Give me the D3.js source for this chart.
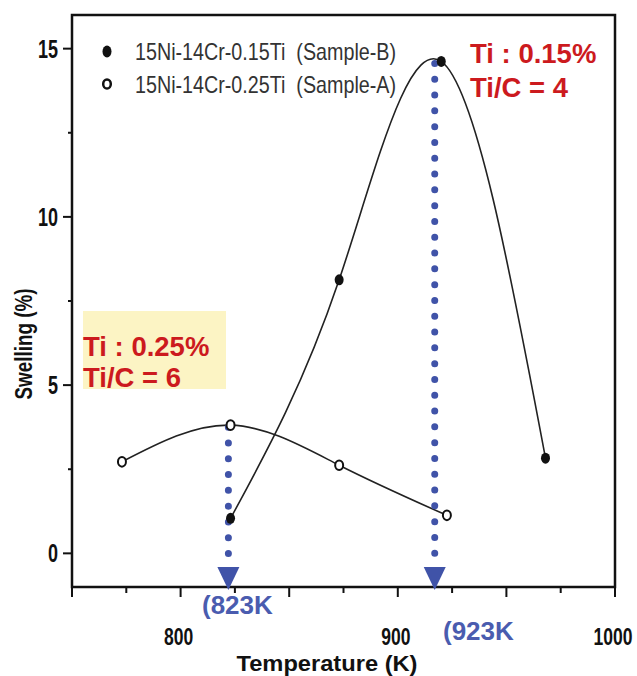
<!DOCTYPE html>
<html>
<head>
<meta charset="utf-8">
<script src="https://cdn.jsdelivr.net/npm/d3@7"></script>
<style>
  html, body { margin: 0; padding: 0; background: #fff; }
  svg { display: block; }
</style>
</head>
<body>
<div id="chart"></div>
<script>
// ---------------- data ----------------
const tempB = [823, 873, 920, 968];
const swellB = [1.04, 8.13, 14.62, 2.83];
const tempA = [773, 823, 873, 922.6];
const swellA = [2.72, 3.81, 2.62, 1.13];
const seriesNames = ["15Ni-14Cr-0.15Ti  (Sample-B)", "15Ni-14Cr-0.25Ti  (Sample-A)"];
const xTickLabels = [800, 900, 1000];
const yTickLabels = [0, 5, 10, 15];
const arrowTemps = [822, 917];
const arrowStarts = [3.81, 14.62];
const arrowLabels = ["(823K", "(923K"];
const noteB = ["Ti : 0.15%", "Ti/C = 4"];
const noteA = ["Ti : 0.25%", "Ti/C = 6"];

// ---------------- setup ----------------
const W = 637, H = 676;
const svg = d3.select("#chart").append("svg").attr("width", W).attr("height", H);
const x = d3.scaleLinear().domain([750, 1000]).range([72, 615]);
const y = d3.scaleLinear().domain([-1, 16]).range([587, 15]);
const sans = "'Liberation Sans', Arial, sans-serif";
const blue = "#4053a8";
const red = "#cc1a1e";

// yellow note box (behind)
svg.append("rect").attr("x", 83).attr("y", 311).attr("width", 143).attr("height", 78)
  .attr("fill", "#fcf4c4");

// ---------------- axes ----------------
const xMinor = d3.range(750, 1001, 25);
svg.append("g").selectAll("line").data(xMinor).join("line")
  .attr("x1", d => x(d)).attr("x2", d => x(d))
  .attr("y1", 587).attr("y2", d => 587 + (d % 50 === 0 ? 10 : 6))
  .attr("stroke", "#111").attr("stroke-width", 2);
svg.append("g").selectAll("text").data(xTickLabels).join("text")
  .attr("transform", d => `translate(${x(d) - 2},645) scale(0.73,1)`).attr("text-anchor", "middle")
  .attr("font-family", sans).attr("font-weight", "bold").attr("font-size", 24)
  .attr("fill", "#111").text(d => d);

const yMinor = d3.range(0, 16, 2.5);
svg.append("g").selectAll("line").data(yMinor).join("line")
  .attr("y1", d => y(d)).attr("y2", d => y(d))
  .attr("x1", 72).attr("x2", d => 72 - (d % 5 === 0 ? 9 : 4))
  .attr("stroke", "#111").attr("stroke-width", 2);
svg.append("g").selectAll("text").data(yTickLabels).join("text")
  .attr("transform", d => `translate(58,${y(d) + 9}) scale(0.72,1)`).attr("text-anchor", "end")
  .attr("font-family", sans).attr("font-weight", "bold").attr("font-size", 25)
  .attr("fill", "#111").text(d => d);

// frame
svg.append("rect").attr("x", 72).attr("y", 15).attr("width", 543).attr("height", 572)
  .attr("fill", "none").attr("stroke", "#111").attr("stroke-width", 2.5);

// axis titles
svg.append("text").attr("x", 327).attr("y", 671).attr("text-anchor", "middle")
  .attr("font-family", sans).attr("font-weight", "bold").attr("font-size", 22)
  .attr("textLength", 181).attr("lengthAdjust", "spacingAndGlyphs")
  .attr("fill", "#111").text("Temperature (K)");
svg.append("text").attr("transform", "translate(32,344) rotate(-90)").attr("text-anchor", "middle")
  .attr("font-family", sans).attr("font-weight", "bold").attr("font-size", 23)
  .attr("textLength", 111).attr("lengthAdjust", "spacingAndGlyphs")
  .attr("fill", "#111").text("Swelling (%)");

// ---------------- curves ----------------
const line = d3.line().x(d => x(d[0])).y(d => y(d[1])).curve(d3.curveNatural);
const ptsA = tempA.map((t, i) => [t, swellA[i]]);
const ptsB = tempB.map((t, i) => [t, swellB[i]]);
svg.append("path").attr("d", line(ptsA)).attr("fill", "none").attr("stroke", "#222").attr("stroke-width", 1.6);
svg.append("path").attr("d", line(ptsB)).attr("fill", "none").attr("stroke", "#222").attr("stroke-width", 1.6);

// ---------------- arrows ----------------
arrowTemps.forEach((t, i) => {
  const ax = x(t);
  const y0 = y(arrowStarts[i]) + 2;
  svg.append("line").attr("x1", ax).attr("x2", ax).attr("y1", y0).attr("y2", 560)
    .attr("stroke", blue).attr("stroke-width", 7).attr("stroke-linecap", "round")
    .attr("stroke-dasharray", "0,15.8");
  svg.append("path").attr("d", `M${ax - 11},567 L${ax + 11},567 L${ax},590 Z`).attr("fill", blue);
});
svg.append("text").attr("x", 202).attr("y", 614)
  .attr("font-family", sans).attr("font-weight", "bold").attr("font-size", 26)
  .attr("fill", "#4a5caf").text(arrowLabels[0]);
svg.append("text").attr("x", 443).attr("y", 640)
  .attr("font-family", sans).attr("font-weight", "bold").attr("font-size", 26)
  .attr("fill", "#4a5caf").text(arrowLabels[1]);

// ---------------- markers ----------------
svg.append("g").selectAll("ellipse").data(ptsB).join("ellipse")
  .attr("cx", d => x(d[0])).attr("cy", d => y(d[1])).attr("rx", 4.5).attr("ry", 5.5)
  .attr("fill", "#111");
svg.append("g").selectAll("ellipse").data(ptsA).join("ellipse")
  .attr("cx", d => x(d[0])).attr("cy", d => y(d[1])).attr("rx", 4).attr("ry", 4.8)
  .attr("fill", "#fff").attr("stroke", "#111").attr("stroke-width", 2);

// ---------------- legend ----------------
svg.append("ellipse").attr("cx", 107).attr("cy", 51.5).attr("rx", 4.5).attr("ry", 6).attr("fill", "#111");
svg.append("ellipse").attr("cx", 107).attr("cy", 84).attr("rx", 3.8).attr("ry", 4.6)
  .attr("fill", "#fff").attr("stroke", "#111").attr("stroke-width", 2.5);
seriesNames.forEach((s, i) => {
  svg.append("text").attr("x", 135).attr("y", 60 + i * 33)
    .attr("font-family", sans).attr("font-size", 24).attr("fill", "#333")
    .attr("textLength", 261).attr("lengthAdjust", "spacingAndGlyphs")
    .attr("xml:space", "preserve").style("white-space", "pre").text(s);
});

// ---------------- notes ----------------
noteB.forEach((s, i) => {
  svg.append("text").attr("x", 470).attr("y", 63 + i * 34)
    .attr("font-family", sans).attr("font-weight", "bold").attr("font-size", 27.5)
    .attr("fill", red).text(s);
});
noteA.forEach((s, i) => {
  svg.append("text").attr("x", 83).attr("y", 356 + i * 31)
    .attr("font-family", sans).attr("font-weight", "bold").attr("font-size", 27.5)
    .attr("fill", red).text(s);
});
</script>
</body>
</html>
